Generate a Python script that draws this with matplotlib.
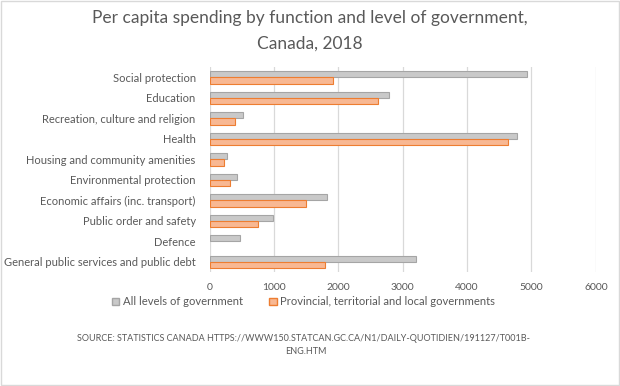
import matplotlib
matplotlib.use("Agg")
from matplotlib import pyplot as plt
from matplotlib.patches import Patch, Rectangle
import numpy as np

categories = [
    "Social protection",
    "Education",
    "Recreation, culture and religion",
    "Health",
    "Housing and community amenities",
    "Environmental protection",
    "Economic affairs (inc. transport)",
    "Public order and safety",
    "Defence",
    "General public services and public debt",
]
all_levels = [4938, 2780, 512, 4783, 264, 419, 1832, 978, 466, 3199]
provincial = [1910, 2624, 388, 4643, 222, 311, 1491, 745, 0, 1786]
series_names = ["All levels of government",
                "Provincial, territorial and local governments"]
x_ticks = [0, 1000, 2000, 3000, 4000, 5000, 6000]

plt.rcParams['font.family'] = ['Lato', 'DejaVu Sans']
txt = '#595959'

fig = plt.figure(figsize=(6.2, 3.86), dpi=100)
ax = fig.add_axes([0.338, 0.295, 0.623, 0.531])

y = np.arange(len(categories))
h = 0.3
ax.barh(y - h / 2, all_levels, height=h, color='#C9C9C9', edgecolor='#A5A5A5',
        linewidth=[0.8 if v else 0 for v in all_levels], zorder=3)
ax.barh(y + h / 2, provincial, height=h, color='#F8B893', edgecolor='#ED7D31',
        linewidth=[0.8 if v else 0 for v in provincial], zorder=3)

ax.set_xlim(0, 6000)
ax.set_ylim(len(categories) - 0.5, -0.5)
ax.set_xticks(x_ticks)
ax.set_xticklabels([str(t) for t in x_ticks])
ax.set_yticks(y)
ax.set_yticklabels(categories)
ax.tick_params(axis='both', length=0, colors=txt, labelsize=7.5)
ax.tick_params(axis='y', pad=10, labelsize=8)
ax.tick_params(axis='x', pad=8)
ax.grid(axis='x', color='#D9D9D9', linewidth=0.9, zorder=0)
for s in ax.spines.values():
    s.set_visible(False)

fig.text(0.5, 0.953, "Per capita spending by function and level of government,",
         ha='center', va='center', fontsize=12.5, color=txt)
fig.text(0.5, 0.888, "Canada, 2018", ha='center', va='center', fontsize=12.5, color=txt)

handles = [Patch(facecolor='#C9C9C9', edgecolor='#A5A5A5'),
           Patch(facecolor='#F8B893', edgecolor='#ED7D31')]
leg = fig.legend(handles, series_names, loc='center', bbox_to_anchor=(0.49, 0.218),
                 ncol=2, frameon=False, fontsize=8.1, handlelength=0.65, handleheight=0.65,
                 handletextpad=0.35, columnspacing=2.3)
for t in leg.get_texts():
    t.set_color(txt)

fig.text(0.489, 0.122, "SOURCE: STATISTICS CANADA HTTPS://WWW150.STATCAN.GC.CA/N1/DAILY-QUOTIDIEN/191127/T001B-",
         ha='center', va='center', fontsize=6.5, color=txt)
fig.text(0.494, 0.09, "ENG.HTM", ha='center', va='center', fontsize=6.5, color=txt)

fig.patches.append(Rectangle((0.002, 0.002), 0.996, 0.996, transform=fig.transFigure,
                             fill=False, edgecolor='#D9D9D9', linewidth=1))

fig.savefig("out.png", dpi=100)
